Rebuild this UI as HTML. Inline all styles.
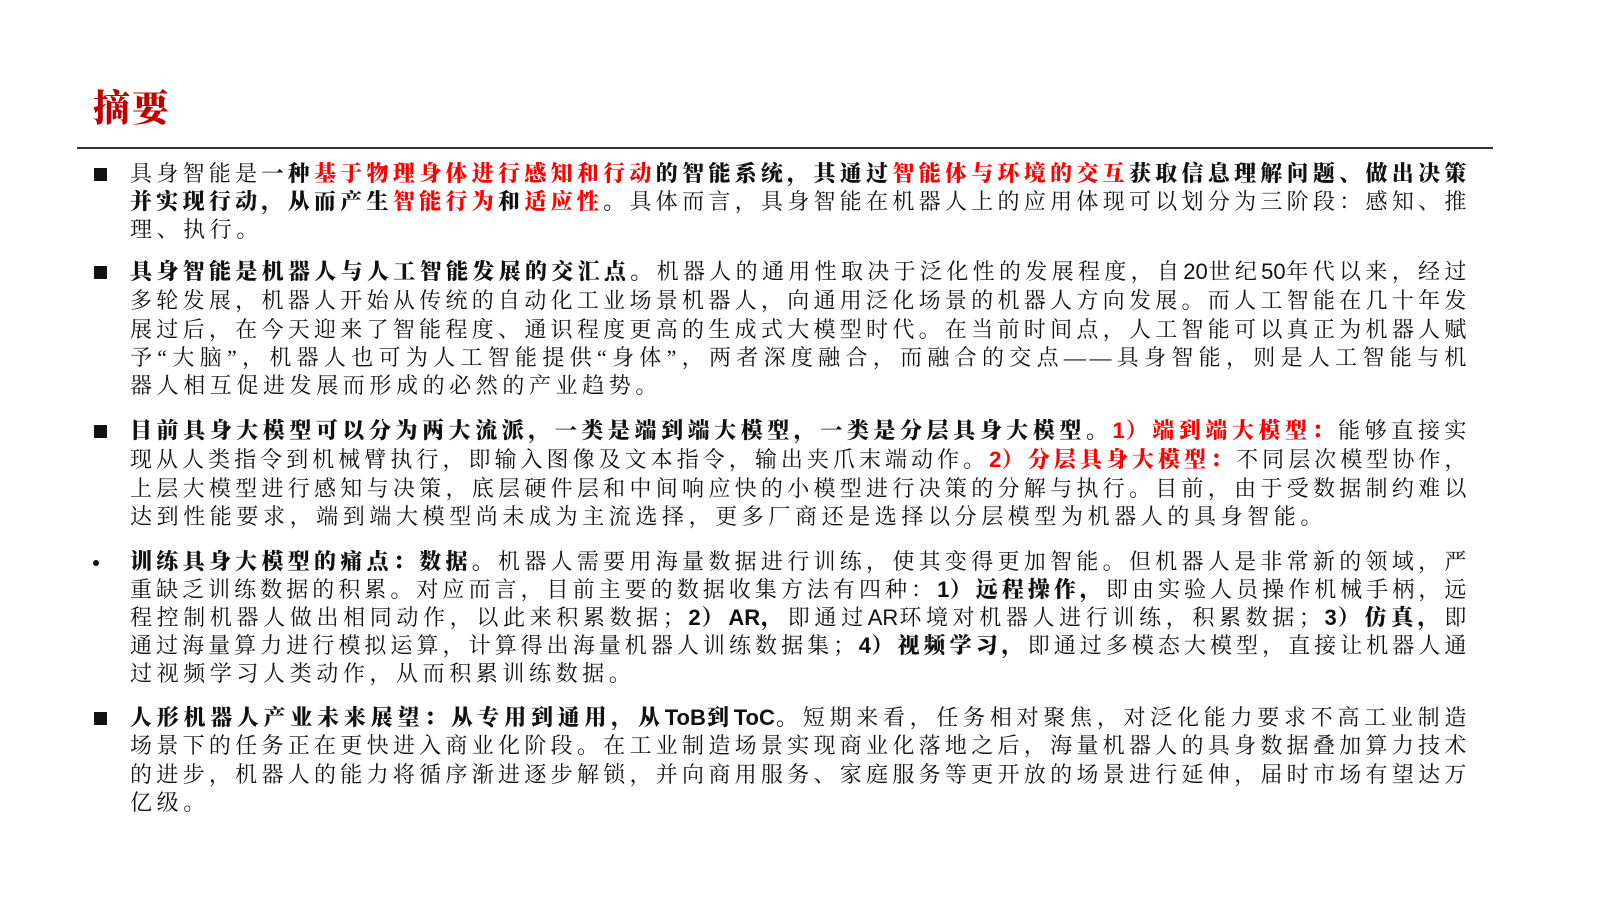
<!DOCTYPE html>
<html><head><meta charset="utf-8">
<style>
body{margin:0;width:1600px;height:900px;background:#fff;position:relative;overflow:hidden;font-family:"Liberation Serif","Noto Serif CJK SC",serif;color:#111}
.t{position:absolute;left:93px;top:86px;font-size:37px;font-weight:900;color:#c00000;letter-spacing:2px;line-height:48px}
.hr{position:absolute;left:77px;top:147px;width:1416px;height:2px;background:#333}
.l{position:absolute;left:130px;width:1340px;height:28px;line-height:28px;font-size:22px;letter-spacing:3.6px;text-align:justify;text-align-last:justify;white-space:nowrap}
.e{text-align-last:left;letter-spacing:4.6px}
.b{font-weight:900}
.r{color:#f00;font-weight:900}
.n{font-family:"Liberation Sans","Noto Sans CJK SC",sans-serif;font-weight:bold;letter-spacing:0}
.sq{position:absolute;left:94px;width:13px;height:13px;background:#111}
.dot{position:absolute;left:93px;width:6px;height:6px;border-radius:50%;background:#111}
</style></head><body>
<div class="t">摘要</div>
<div class="hr"></div>

<div class="sq" style="top:168px"></div>
<div class="l" style="top:160px">具身智能是<span class="b">一种</span><span class="r">基于物理身体进行感知和行动</span><span class="b">的智能系统，其通过</span><span class="r">智能体与环境的交互</span><span class="b">获取信息理解问题、做出决策</span></div>
<div class="l" style="top:188px"><span class="b">并实现行动，从而产生</span><span class="r">智能行为</span><span class="b">和</span><span class="r">适应性</span><span class="b">。</span>具体而言，具身智能在机器人上的应用体现可以划分为三阶段：感知、推</div>
<div class="l e" style="top:216px">理、执行。</div>

<div class="sq" style="top:266px"></div>
<div class="l" style="top:258px"><span class="b">具身智能是机器人与人工智能发展的交汇点。</span>机器人的通用性取决于泛化性的发展程度，自<span class="n" style="font-weight:normal">20</span>世纪<span class="n" style="font-weight:normal">50</span>年代以来，经过</div>
<div class="l" style="top:287px">多轮发展，机器人开始从传统的自动化工业场景机器人，向通用泛化场景的机器人方向发展。而人工智能在几十年发</div>
<div class="l" style="top:316px">展过后，在今天迎来了智能程度、通识程度更高的生成式大模型时代。在当前时间点，人工智能可以真正为机器人赋</div>
<div class="l" style="top:344px">予“大脑”，机器人也可为人工智能提供“身体”，两者深度融合，而融合的交点——具身智能，则是人工智能与机</div>
<div class="l e" style="top:372px">器人相互促进发展而形成的必然的产业趋势。</div>

<div class="sq" style="top:425px"></div>
<div class="l" style="top:417px"><span class="b">目前具身大模型可以分为两大流派，一类是端到端大模型，一类是分层具身大模型。</span><span class="r"><span class="n">1</span>）端到端大模型：</span>能够直接实</div>
<div class="l" style="top:446px">现从人类指令到机械臂执行，即输入图像及文本指令，输出夹爪末端动作。<span class="r"><span class="n">2</span>）分层具身大模型：</span>不同层次模型协作，</div>
<div class="l" style="top:475px">上层大模型进行感知与决策，底层硬件层和中间响应快的小模型进行决策的分解与执行。目前，由于受数据制约难以</div>
<div class="l e" style="top:503px">达到性能要求，端到端大模型尚未成为主流选择，更多厂商还是选择以分层模型为机器人的具身智能。</div>

<div class="dot" style="top:560px"></div>
<div class="l" style="top:548px"><span class="b">训练具身大模型的痛点：数据。</span>机器人需要用海量数据进行训练，使其变得更加智能。但机器人是非常新的领域，严</div>
<div class="l" style="top:576px">重缺乏训练数据的积累。对应而言，目前主要的数据收集方法有四种：<span class="b"><span class="n">1</span>）远程操作，</span>即由实验人员操作机械手柄，远</div>
<div class="l" style="top:604px">程控制机器人做出相同动作，以此来积累数据；<span class="b"><span class="n">2</span>）<span class="n">AR</span>，</span>即通过<span class="n" style="font-weight:normal">AR</span>环境对机器人进行训练，积累数据；<span class="b"><span class="n">3</span>）仿真，</span>即</div>
<div class="l" style="top:632px">通过海量算力进行模拟运算，计算得出海量机器人训练数据集；<span class="b"><span class="n">4</span>）视频学习，</span>即通过多模态大模型，直接让机器人通</div>
<div class="l e" style="top:660px">过视频学习人类动作，从而积累训练数据。</div>

<div class="sq" style="top:712px"></div>
<div class="l" style="top:704px"><span class="b">人形机器人产业未来展望：从专用到通用，从<span class="n">ToB</span>到<span class="n">ToC</span>。</span>短期来看，任务相对聚焦，对泛化能力要求不高工业制造</div>
<div class="l" style="top:732px">场景下的任务正在更快进入商业化阶段。在工业制造场景实现商业化落地之后，海量机器人的具身数据叠加算力技术</div>
<div class="l" style="top:761px">的进步，机器人的能力将循序渐进逐步解锁，并向商用服务、家庭服务等更开放的场景进行延伸，届时市场有望达万</div>
<div class="l e" style="top:789px">亿级。</div>
</body></html>
